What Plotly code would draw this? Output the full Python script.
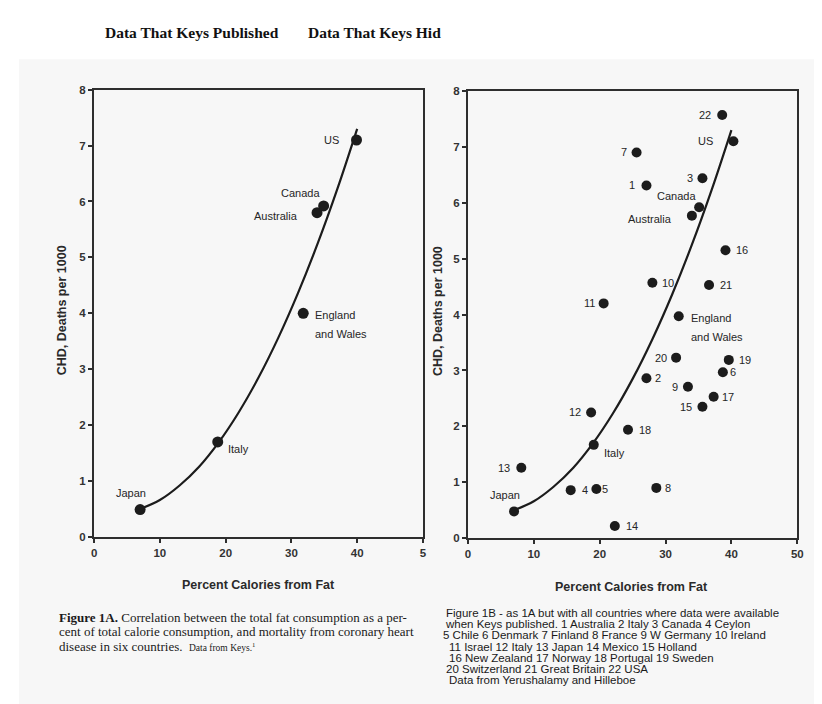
import plotly.graph_objects as go

# ---------------- data ----------------
left_country = ["Japan", "Italy", "England and Wales", "Australia", "Canada", "US"]
left_fat = [7.0, 18.8, 31.8, 33.9, 34.9, 39.9]
left_chd = [0.49, 1.70, 4.00, 5.80, 5.92, 7.10]

right_label = ["22", "US", "7", "1", "3", "Canada", "Australia", "16", "10", "21",
               "11", "England and Wales", "20", "19", "6", "2", "9", "17", "15",
               "12", "18", "Italy", "13", "4", "5", "8", "Japan", "14"]
right_fat = [38.6, 40.3, 25.6, 27.1, 35.6, 35.1, 34.0, 39.1, 28.0, 36.6,
             20.6, 32.0, 31.6, 39.6, 38.7, 27.1, 33.4, 37.3, 35.6,
             18.7, 24.3, 19.1, 8.1, 15.6, 19.5, 28.6, 7.0, 22.3]
right_chd = [7.57, 7.10, 6.90, 6.31, 6.44, 5.92, 5.77, 5.15, 4.57, 4.53,
             4.20, 3.97, 3.23, 3.19, 2.97, 2.86, 2.71, 2.53, 2.35,
             2.25, 1.94, 1.67, 1.26, 0.86, 0.88, 0.90, 0.48, 0.22]

curve_fat = [7, 10, 13, 16, 19, 22, 25, 28, 31, 34, 37, 40]
curve_chd = [0.50, 0.66, 0.92, 1.26, 1.70, 2.23, 2.85, 3.56, 4.36, 5.25, 6.23, 7.30]

x_ticks = [0, 10, 20, 30, 40, 50]
left_x_ticktext = ["0", "10", "20", "30", "40", "5"]
right_x_ticktext = ["0", "10", "20", "30", "40", "50"]
y_ticks = [0, 1, 2, 3, 4, 5, 6, 7, 8]

left_title = "Data That Keys Published"
right_title = "Data That Keys Hid"
x_title = "Percent Calories from Fat"
y_title = "CHD, Deaths per 1000"

left_caption = [
    "<b>Figure 1A.</b> Correlation between the total fat consumption as a per-",
    "cent of total calorie consumption, and mortality from coronary heart",
    "disease in six countries.  <span style=\"font-size:9.5px\">Data from Keys.<sup>1</sup></span>",
]
right_caption = [
    "Figure 1B - as 1A but with all countries where data were available",
    "when Keys published. 1 Australia 2 Italy 3 Canada 4 Ceylon",
    "5 Chile 6 Denmark 7 Finland 8 France 9 W Germany 10 Ireland",
    "11 Israel 12 Italy 13 Japan 14 Mexico 15 Holland",
    "16 New Zealand 17 Norway 18 Portugal 19 Sweden",
    "20 Switzerland 21 Great Britain 22 USA",
    "Data from Yerushalamy and Hilleboe",
]

# ---------------- label placement (style, pixels) ----------------
W, H = 822, 704
multi_line = {"England and Wales": ["England", "and Wales"]}
left_place = {
    "US": (-16, 0, "right"), "Canada": (-23, 13, "center"),
    "Australia": (-17, -3, "right"), "England and Wales": (10, -2, "left"),
    "Italy": (8, -7, "left"), "Japan": (-9, 17, "center"),
}
right_place = {
    "22": (-9, 0, "right"), "US": (-18, 0, "right"), "7": (-8, 0, "right"),
    "1": (-9, 0, "right"), "3": (-7, 0, "right"), "Canada": (-23, 11, "center"),
    "Australia": (-18, -3, "right"), "16": (9, 0, "left"), "10": (8, 0, "left"),
    "21": (9, 0, "left"), "11": (-7, 0, "right"), "England and Wales": (10, -2, "left"),
    "20": (-7, 0, "right"), "19": (8, 0, "left"), "6": (5, 0, "left"),
    "2": (7, 0, "left"), "9": (-8, 0, "right"), "17": (6, 0, "left"),
    "15": (-8, 0, "right"), "12": (-8, 0, "right"), "18": (9, 0, "left"),
    "Italy": (8, -8, "left"), "13": (-9, 0, "right"), "4": (9, 0, "left"),
    "5": (4, 0, "left"), "8": (7, 0, "left"), "Japan": (-9, 16, "center"),
    "14": (9, 0, "left"),
}

INK = "#1c1c1c"
LABEL_FONT = dict(family="Liberation Sans, Arial, sans-serif", size=11, color="#262626")

fig = go.Figure()

# curves
fig.add_trace(go.Scatter(x=curve_fat, y=curve_chd, mode="lines", line=dict(color=INK, width=2.2, shape="spline"),
                         xaxis="x", yaxis="y", showlegend=False, hoverinfo="skip"))
fig.add_trace(go.Scatter(x=curve_fat, y=curve_chd, mode="lines", line=dict(color=INK, width=2.2, shape="spline"),
                         xaxis="x2", yaxis="y2", showlegend=False, hoverinfo="skip"))
# points
fig.add_trace(go.Scatter(x=left_fat, y=left_chd, mode="markers", text=left_country,
                         marker=dict(color=INK, size=11), xaxis="x", yaxis="y", showlegend=False))
fig.add_trace(go.Scatter(x=right_fat, y=right_chd, mode="markers", text=right_label,
                         marker=dict(color=INK, size=10), xaxis="x2", yaxis="y2", showlegend=False))

annotations = []


def add_labels(names, xs, ys, place, xref, yref):
    for name, xv, yv in zip(names, xs, ys):
        dx, dy, anchor = place[name]
        lines = multi_line.get(name, [name])
        for i, line in enumerate(lines):
            annotations.append(dict(x=xv, y=yv, xref=xref, yref=yref, text=line, showarrow=False,
                                    xanchor=anchor, yanchor="middle", xshift=dx, yshift=dy - 19 * i,
                                    font=LABEL_FONT))


add_labels(left_country, left_fat, left_chd, left_place, "x", "y")
add_labels(right_label, right_fat, right_chd, right_place, "x2", "y2")


def px(xp):
    return xp / W


def py(yp):
    return 1 - yp / H


TITLE_FONT = dict(family="Liberation Serif, Times New Roman, serif", size=15.5, color="#111111")
annotations.append(dict(x=px(183), y=py(19), xref="paper", yref="paper", text="<b>%s</b>" % left_title,
                        showarrow=False, xanchor="center", yanchor="middle", font=TITLE_FONT))
annotations.append(dict(x=px(368), y=py(19), xref="paper", yref="paper", text="<b>%s</b>" % right_title,
                        showarrow=False, xanchor="center", yanchor="middle", font=TITLE_FONT))

AXT_FONT = dict(family="Liberation Sans, Arial, sans-serif", size=12.5, color="#2a2a2a")
for cx, cy in [(250, 581), (627, 583)]:
    annotations.append(dict(x=px(cx), y=py(cy), xref="paper", yref="paper", text="<b>%s</b>" % x_title,
                            showarrow=False, xanchor="center", yanchor="middle", font=AXT_FONT))
for cx, cy in [(51, 301), (432, 302)]:
    annotations.append(dict(x=px(cx), y=py(cy), xref="paper", yref="paper", text="<b>%s</b>" % y_title,
                            showarrow=False, xanchor="center", yanchor="middle", textangle=-90, font=AXT_FONT))

CAP_L_FONT = dict(family="Liberation Serif, Times New Roman, serif", size=13, color="#1a1a1a")
for i, line in enumerate(left_caption):
    annotations.append(dict(x=px(47), y=py(614 + 14.5 * i), xref="paper", yref="paper", text=line,
                            showarrow=False, xanchor="left", yanchor="middle", font=CAP_L_FONT))

CAP_R_FONT = dict(family="Liberation Sans, Arial, sans-serif", size=11.5, color="#1a1a1a")
cap_r_pos = [(438, 609), (437, 620.5), (435, 632), (441, 643.5), (441, 655), (438, 666.5), (441, 678)]
for line, (cx, cy) in zip(right_caption, cap_r_pos):
    annotations.append(dict(x=px(cx), y=py(cy), xref="paper", yref="paper", text=line,
                            showarrow=False, xanchor="left", yanchor="middle", font=CAP_R_FONT))

TICK_FONT = dict(family="Liberation Sans, Arial, sans-serif", size=11.5, color="#333333", weight="bold")
axis_common = dict(range=[0, 50], showgrid=False, zeroline=False, showline=True, mirror=True,
                   linecolor="#2e2e2e", linewidth=2, ticks="outside", ticklen=4, tickcolor="#2e2e2e",
                   tickwidth=1.5, tickfont=TICK_FONT, tickvals=x_ticks)
yaxis_common = dict(range=[0, 8], showgrid=False, zeroline=False, showline=True, mirror=True,
                    linecolor="#2e2e2e", linewidth=2, ticks="outside", ticklen=4, tickcolor="#2e2e2e",
                    tickwidth=1.5, tickfont=TICK_FONT, tickvals=y_ticks)

fig.update_layout(
    width=W, height=H, autosize=False,
    margin=dict(l=0, r=0, t=0, b=0),
    paper_bgcolor="white", plot_bgcolor="white",
    xaxis=dict(axis_common, domain=[px(84), px(416.5)], ticktext=left_x_ticktext, anchor="y"),
    yaxis=dict(yaxis_common, domain=[py(532), py(77)], anchor="x"),
    xaxis2=dict(axis_common, domain=[px(462), px(795)], ticktext=right_x_ticktext, anchor="y2"),
    yaxis2=dict(yaxis_common, domain=[py(533.3), py(78.3)], anchor="x2"),
    annotations=annotations,
    shapes=[dict(type="rect", xref="paper", yref="paper", x0=px(8), x1=1, y0=0, y1=py(46),
                 fillcolor="#f7f7f7", line=dict(width=0), layer="below")],
    font=dict(family="Liberation Sans, Arial, sans-serif"),
    showlegend=False,
)

fig.write_html("out.html")
